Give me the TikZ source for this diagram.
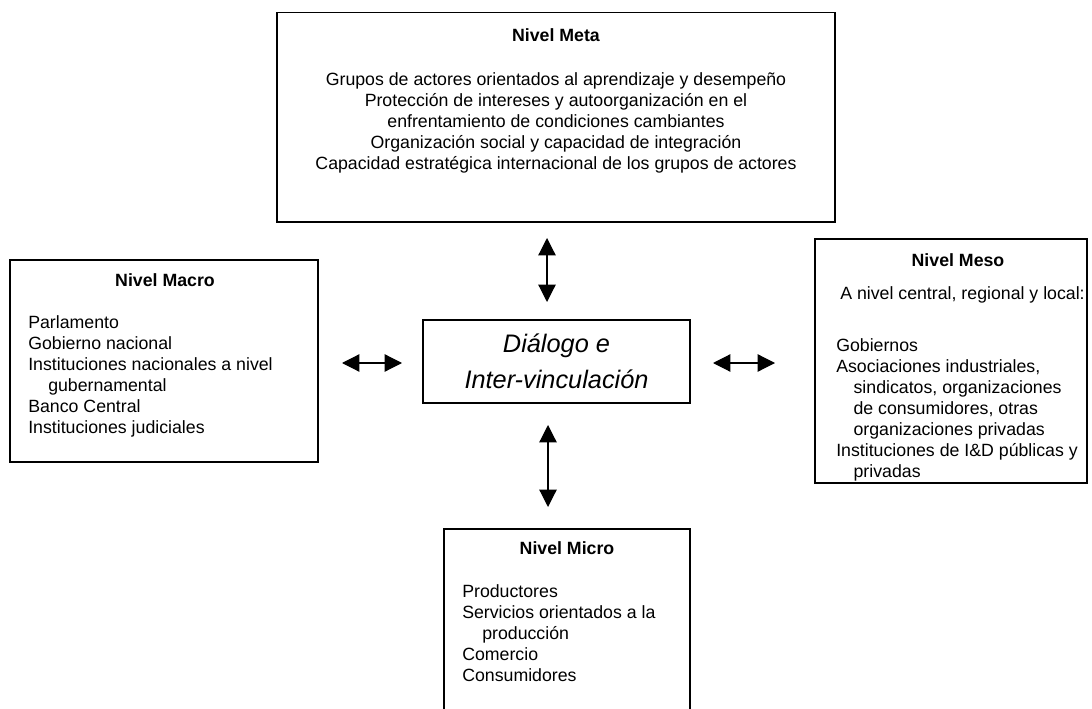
\documentclass[tikz,border=0pt]{standalone}
\usepackage{fontspec}
\setmainfont{Liberation Sans}
\usetikzlibrary{
  arrows.meta,
  positioning
}

\begin{document}
\begin{tikzpicture}[x=0.75pt,y=-0.75pt,
  box/.style={rectangle,draw=black,line width=1pt,fill=white,inner sep=0pt},
  txt/.style={inner sep=0pt,align=left,font=\fontsize{13.3pt}{15.75pt}\selectfont},
  ttl/.style={inner sep=0pt,font=\fontsize{13.3pt}{15.75pt}\selectfont\bfseries,anchor=base},
  arr/.style={{Triangle[length=13pt,width=13pt]}-{Triangle[length=13pt,width=13pt]},line width=0.9pt}]
  \useasboundingbox (0,0) rectangle (1092,709);
  % the five boxes
  \node[box,minimum width=418.5pt,minimum height=157pt] (meta) at (556,117.5) {};
  \node[box,minimum width=231pt,minimum height=151.5pt] (macro) at (164,361) {};
  \node[box,minimum width=204pt,minimum height=183pt] (meso) at (951,361) {};
  \node[box,minimum width=184.5pt,minimum height=139.5pt] (micro) at (567,622) {};
  \node[box,minimum width=200.25pt,minimum height=62.25pt,align=center,
        font=\fontsize{19pt}{27pt}\selectfont\itshape] (dialogo) at (556.5,361.5)
        {Diálogo e\\ Inter-vinculación};
  % titles
  \node[ttl] (metat) at (556,41.3) {Nivel Meta};
  \node[ttl] (macrot) at (165,286.3) {Nivel Macro};
  \node[ttl] (mesot) at (958,266.3) {Nivel Meso};
  \node[ttl] (microt) at (567,554.3) {Nivel Micro};
  % texts
  \node[txt,anchor=north,align=center] (metab) at (556,72.7)
    {Grupos de actores orientados al aprendizaje y desempeño\\
     Protección de intereses y autoorganización en el\\
     enfrentamiento de condiciones cambiantes\\
     Organización social y capacidad de integración\\
     Capacidad estratégica internacional de los grupos de actores};
  \node[txt,anchor=north west] (macrob) at (28,315.7)
    {Parlamento\\
     Gobierno nacional\\
     Instituciones nacionales a nivel\\
     \hspace*{15pt}gubernamental\\
     Banco Central\\
     Instituciones judiciales};
  \node[txt,anchor=north west] (mesoa) at (840,286.7)
    {A nivel central, regional y local:};
  \node[txt,anchor=north west] (mesob) at (836,338.7)
    {Gobiernos\\
     Asociaciones industriales,\\
     \hspace*{13pt}sindicatos, organizaciones\\
     \hspace*{13pt}de consumidores, otras\\
     \hspace*{13pt}organizaciones privadas\\
     Instituciones de I\&D públicas y\\
     \hspace*{13pt}privadas};
  \node[txt,anchor=north west] (microb) at (462,584.7)
    {Productores\\
     Servicios orientados a la\\
     \hspace*{15pt}producción\\
     Comercio\\
     Consumidores};
  % arrows
  \coordinate (up1) at (547,238);
  \coordinate (up2) at (547,302);
  \coordinate (dn1) at (548,425);
  \coordinate (dn2) at (548,507);
  \coordinate (lf1) at (342,363);
  \coordinate (lf2) at (402,363);
  \coordinate (rt1) at (713,363);
  \coordinate (rt2) at (775,363);
  \draw[arr] (up1) -- (up2);
  \draw[arr] (dn1) -- (dn2);
  \draw[arr] (lf1) -- (lf2);
  \draw[arr] (rt1) -- (rt2);
\end{tikzpicture}
\end{document}
